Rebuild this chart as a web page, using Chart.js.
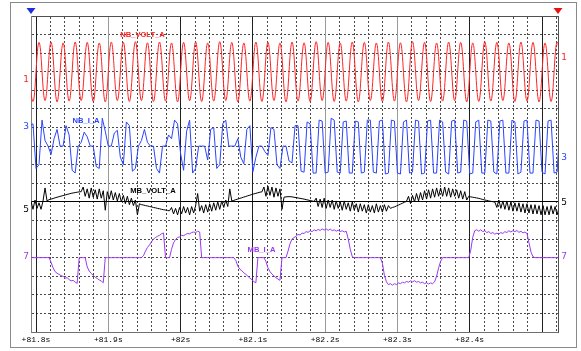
<!DOCTYPE html>
<html><head><meta charset="utf-8">
<script src="https://cdn.jsdelivr.net/npm/chart.js@4.4.1/dist/chart.umd.min.js"></script>
<style>
html,body{margin:0;padding:0;background:#fff;}
#wrap{position:relative;width:581px;height:351px;overflow:hidden;}
#frame{position:absolute;left:10px;top:2px;width:565px;height:344px;border:1px solid #8a8a8a;}
canvas{position:absolute;left:0;top:0;}
</style></head><body>
<div id="wrap"><div id="frame"></div><canvas id="c" width="581" height="351"></canvas></div>
<script>
// ---- time axis (seconds) ----
const T_START = 81.7875;           // first sample instant of every trace
const TICK_VALUES = [81.8, 81.9, 82.0, 82.1, 82.2, 82.3, 82.4, 82.5];
const TICK_LABELS = ['+81.8s', '+81.9s', '+82s', '+82.1s', '+82.2s', '+82.3s', '+82.4s', ''];

// ---- channel names / numbers ----
const NAMES = ['NB_VOLT_A', 'NB_I_A', 'MB_VOLT_A', 'MB_I_A'];
const CH_NUMS = ['1', '3', '5', '7'];

// NB_VOLT_A : alternating crest / trough values every half cycle (1/120 s), in divisions
const RED_V = [
 1.55,-1.60, 1.58,-1.55, 1.60,-1.62, 1.55,-1.58, 1.60,-1.55,
 1.58,-1.60, 1.55,-1.62, 1.60,-1.55, 1.58,-1.60, 1.62,-1.55,
 1.56,-1.60, 1.60,-1.58, 1.55,-1.62, 1.58,-1.56, 1.60,-1.60,
 1.55,-1.58, 1.62,-1.55, 1.58,-1.62, 1.55,-1.58, 1.60,-1.60,
 1.58,-1.55, 1.55,-1.62, 1.60,-1.58, 1.56,-1.60, 1.62,-1.55,
 1.58,-1.60, 1.55,-1.58, 1.60,-1.62, 1.58,-1.55, 1.55,-1.60,
 1.60,-1.58, 1.56,-1.62, 1.62,-1.55, 1.58,-1.60, 1.55,-1.58,
 1.60,-1.55, 1.58,-1.62, 1.55,-1.60, 1.62,-1.58, 1.58,-1.55,
 1.55,-1.60, 1.60,-1.58, 1.58,-1.62, 1.55,-1.60, 1.60,-1.58
];

// NB_I_A : samples every quarter cycle (1/240 s), in divisions
const BLUE_V = [
 0.4,
 1.1,1.2,-1.2,-1.0,   1.4,0.3,0,-0.45,     0.4,0.9,0,0,        1.1,0.6,-1.3,-1.45,
 0,0.2,0.75,0.5,      0,0,-1.1,-1.2,       1.5,0.8,0,0,        0.7,0.85,-0.6,-1.0,
 1.3,1.1,-1.35,-1.2,  0,0.3,0.9,0.2,       0,0,-1.2,-1.45,     0,0,0.6,0.4,
 1.4,1.2,-0.4,-1.3,   0.8,1.4,-1.45,-1.2,  0,0,0,-0.75,        0.9,1.0,-1.2,-1.0,
 1.2,1.4,0,0,         0,0.4,-0.6,-0.95,    0.9,1.1,-1.38,-0.6, 0,0,-0.3,-0.5,
 1.0,0.9,-1.0,-1.2,   0,0,-0.8,-0.9,       1.1,1.1,-1.35,-1.4, 1.3,1.2,-1.45,-1.45,
 1.4,1.35,-1.45,-1.4, 1.5,1.4,-1.4,-1.45,  1.3,1.35,-1.45,-1.45, 1.35,1.3,-1.45,-1.4,
 1.4,1.4,-1.4,-1.45,  1.35,1.4,-1.5,-1.45, 1.4,1.35,-1.45,-1.5, 1.3,1.4,-1.45,-1.4,
 1.4,1.35,-1.5,-1.45, 1.35,1.4,-1.45,-1.45, 1.4,1.3,-1.4,-1.5, 1.35,1.4,-1.45,-1.4,
 1.4,1.35,-1.5,-1.45, 1.3,1.4,-1.45,-1.45, 1.4,1.35,-1.4,-1.5, 1.35,1.4,-1.45,-1.45,
 1.4,1.3,-1.5,-1.4,   1.35,1.4,-1.45,-1.45, 1.4,1.35,-1.4,-1.5, 1.35,1.4,-1.45,-1.4,
 1.35
];

// MB_VOLT_A : samples every 1/360 s, in divisions
const BLACK_V = [
 -0.1,-0.45,0.05,-0.4,0.1,-0.35,-0.05,-0.4,0.05,0.75,
 0.05,0.12,0.15,0.18,0.22,0.25,0.28,0.31,0.34,0.37,
 0.4,0.43,0.46,0.48,0.5,0.52,0.54,0.55,0.8,0.3,
 0.7,0.2,0.75,0.25,0.65,0.15,0.7,0.2,0.6,-0.45,
 0.55,0.15,0.6,0.1,0.5,0.05,0.45,0.0,0.35,-0.1,
 0.3,-0.15,0.2,-0.2,0.1,-0.7,-0.1,-0.15,-0.17,-0.2,
 -0.22,-0.25,-0.27,-0.3,-0.32,-0.35,-0.37,-0.4,-0.42,-0.44,
 -0.46,-0.48,-0.3,-0.65,-0.35,-0.7,-0.3,-0.65,-0.25,-0.6,
 -0.3,-0.7,-0.25,-0.6,-0.2,0.45,-0.5,-0.2,-0.6,-0.15,
 -0.55,-0.1,-0.5,-0.05,-0.45,0.0,-0.4,0.05,-0.3,0.1,
 -0.25,0.7,0.05,0.08,0.12,0.15,0.19,0.22,0.26,0.29,
 0.33,0.36,0.4,0.43,0.46,0.49,0.52,0.54,0.8,0.3,
 0.85,0.35,0.8,0.25,0.75,0.3,0.7,-0.4,0.25,0.27,
 0.28,0.28,0.27,0.25,0.23,0.21,0.19,0.17,0.15,0.12,
 0.1,0.07,0.05,0.02,0.2,-0.25,0.15,-0.3,0.2,-0.35,
 0.1,-0.3,0.1,-0.4,0.05,-0.35,0.0,-0.45,0.05,-0.4,
 -0.05,-0.5,0.0,-0.45,-0.1,-0.55,-0.1,-0.5,-0.15,-0.6,
 -0.15,-0.55,-0.2,-0.6,-0.1,-0.55,-0.2,-0.55,-0.15,-0.5,
 -0.2,-0.35,-0.3,-0.27,-0.22,-0.17,-0.12,-0.07,-0.02,0.03,
 0.3,-0.1,0.35,0.0,0.45,0.05,0.5,0.1,0.6,0.15,
 0.65,0.2,0.7,0.25,0.75,0.3,0.75,0.3,0.8,0.3,
 0.75,0.25,0.7,0.3,0.65,0.2,0.6,0.15,0.55,0.1,
 0.3,0.27,0.25,0.23,0.21,0.19,0.16,0.13,0.1,0.08,
 0.05,0.03,0.01,-0.01,-0.3,0.1,-0.35,0.05,-0.4,0.05,
 -0.45,0.0,-0.5,-0.05,-0.5,-0.05,-0.55,-0.1,-0.6,-0.1,
 -0.6,-0.15,-0.65,-0.15,-0.65,-0.2,-0.7,-0.2,-0.7,-0.25,
 -0.7,-0.2,-0.65,-0.25,-0.7,-0.3,-0.65
];

// MB_I_A : samples every 1/360 s, in divisions
const PURPLE_V = [
 0,0,0,0,0,0,0,0,0,0,
 0,0,-0.25,-0.55,-0.75,-0.84,-0.9,-0.97,-1.0,-1.1,
 -1.08,-1.18,-1.25,-1.22,-1.32,-1.38,0,0,0,0,
 -0.5,-0.72,-0.85,-0.95,-1.05,-1.12,-1.2,-1.26,-1.35,0,
 0,0,0,0,0,0,0,0,0,0,
 0,0,0,0,0,0,0,0,0.1,0.35,
 0.55,0.68,0.85,1.0,1.08,1.15,1.2,1.28,1.33,0,
 0,0,0.45,0.8,0.98,1.08,1.12,1.2,1.18,1.25,
 1.3,1.28,1.35,1.38,1.35,1.42,1.38,0,0,0,
 0,0,0,0,0,0,0,0,0,0,
 0,0,0,0,-0.15,-0.45,-0.62,-0.7,-0.82,-0.9,
 -1.0,-1.1,-1.18,-1.3,-1.35,0,0,0,0,-0.2,
 -0.55,-0.75,-0.88,-0.98,-1.08,-1.15,-1.22,0,0,0,
 0.35,0.75,1.0,1.08,1.15,1.25,1.22,1.32,1.3,1.4,
 1.36,1.45,1.4,1.5,1.44,1.52,1.46,1.55,1.48,1.55,
 1.47,1.54,1.45,1.5,1.42,1.48,1.4,1.45,1.38,1.42,
 1.0,0.45,0.05,0,0,0,0,0,0,0,
 0,0,0,0,0,0,0,-0.3,-0.95,-1.3,
 -1.45,-1.4,-1.48,-1.4,-1.45,-1.36,-1.4,-1.32,-1.36,-1.28,
 -1.32,-1.25,-1.3,-1.24,-1.32,-1.28,-1.36,-1.32,-1.4,-1.35,
 -1.42,-1.36,-1.4,-1.3,-1.0,-0.55,-0.2,0,0,0,
 0,0,0,0,0,0,0,0,0,0,
 0,0.4,1.1,1.45,1.5,1.42,1.5,1.4,1.45,1.35,
 1.4,1.3,1.35,1.26,1.32,1.27,1.35,1.3,1.4,1.35,
 1.45,1.38,1.45,1.4,1.46,1.36,1.42,1.33,1.38,1.3,
 0.8,0.3,0.05,0,0,0,0,0,0,0,
 0,0,0,0,0,0,0
];

// ---- display settings (not data) ----
const T_MIN = 81.79308, T_MAX = 82.52209;
const DIVS = 17;
const CH_OFFSET = [14, 10, 7, 4];              // channel zero position, in divisions
const COLORS = ['#ff2323', '#2a44ff', '#000000', '#9a38f2'];
const MAJOR_COLORS = ['#202020', '#9a9a9a', '#202020', '#202020', '#9a9a9a', '#9a9a9a', '#202020', '#202020'];
const LEFT_NUM_DIV = [13.56, 11.03, 6.56, 4.03];
const RIGHT_NUM_DIV = [14.74, 9.36, 6.94, 4.03];
const NAME_T = [81.9473, 81.8692, 81.9618, 82.1119];
const NAME_DIV = [16.0, 11.35, 7.58, 4.44];

const series = (vals, step) => vals.map((v, i) => ({x: T_START + i * step, y: v}));
const chScale = i => ({display: false, min: -CH_OFFSET[i], max: DIVS - CH_OFFSET[i]});

const overlay = {
  id: 'overlay',
  afterDraw(chart) {
    const {ctx, chartArea: a, scales} = chart;
    const sx = scales.x, sy = scales.y;
    ctx.save();
    // cursor markers
    [[a.left, '#1a2fe0'], [a.right, '#e81010']].forEach(([px, col]) => {
      ctx.fillStyle = col;
      ctx.beginPath();
      ctx.moveTo(px - 4.5, a.top - 8);
      ctx.lineTo(px + 4.5, a.top - 8);
      ctx.lineTo(px, a.top - 2);
      ctx.closePath();
      ctx.fill();
    });
    // channel numbers
    ctx.font = "9px 'DejaVu Sans'";
    ctx.textAlign = 'center';
    ctx.textBaseline = 'middle';
    CH_NUMS.forEach((n, i) => {
      ctx.fillStyle = COLORS[i];
      ctx.fillText(n, a.left - 5, sy.getPixelForValue(LEFT_NUM_DIV[i]));
      ctx.fillText(n, a.right + 6, sy.getPixelForValue(RIGHT_NUM_DIV[i]));
    });
    // trace names
    ctx.font = "bold 7.6px 'Liberation Sans'";
    NAMES.forEach((n, i) => {
      ctx.fillStyle = COLORS[i];
      ctx.fillText(n, sx.getPixelForValue(NAME_T[i]), sy.getPixelForValue(NAME_DIV[i]));
    });
    ctx.restore();
  }
};

new Chart(document.getElementById('c'), {
  type: 'line',
  data: {
    datasets: [
      {label: NAMES[0], data: series(RED_V, 1/120), yAxisID: 'y1', borderColor: COLORS[0], borderWidth: 1, pointRadius: 0, tension: 0.4},
      {label: NAMES[1], data: series(BLUE_V, 1/240), yAxisID: 'y3', borderColor: COLORS[1], borderWidth: 1, pointRadius: 0, tension: 0},
      {label: NAMES[2], data: series(BLACK_V, 1/360), yAxisID: 'y5', borderColor: COLORS[2], borderWidth: 1, pointRadius: 0, tension: 0},
      {label: NAMES[3], data: series(PURPLE_V, 1/360), yAxisID: 'y7', borderColor: COLORS[3], borderWidth: 1, pointRadius: 0, tension: 0}
    ]
  },
  options: {
    responsive: false,
    animation: false,
    events: [],
    layout: {padding: {left: 31, right: 23, top: 16, bottom: 3}},
    plugins: {legend: {display: false}, tooltip: {enabled: false}},
    scales: {
      x: {
        type: 'linear', position: 'bottom', min: T_MIN, max: T_MAX,
        afterBuildTicks: s => { s.ticks = TICK_VALUES.map(v => ({value: v})); },
        afterFit: s => { s.height = 16; },
        ticks: {autoSkip: false, maxRotation: 0, padding: 3, color: '#000',
                font: {family: "'Liberation Mono'", size: 8},
                callback: (v, i) => TICK_LABELS[i]},
        grid: {drawTicks: false, lineWidth: 1, color: c => MAJOR_COLORS[c.index], z: -1},
        border: {display: true, color: '#707070'}
      },
      xMinor: {
        type: 'linear', position: 'top', min: T_MIN, max: T_MAX,
        afterBuildTicks: s => { const t = []; for (let i = 1; i <= 36; i++) t.push({value: TICK_VALUES[0] + i * 0.02}); s.ticks = t; },
        afterFit: s => { s.height = 0; },
        ticks: {display: false},
        grid: {drawTicks: false, color: '#4a4a4a', z: -2},
        border: {display: true, color: '#505050', dash: [2, 2]}
      },
      y: {
        type: 'linear', position: 'left', min: 0, max: DIVS,
        afterFit: s => { s.width = 0; },
        ticks: {display: false, stepSize: 1},
        grid: {drawTicks: false, color: '#4a4a4a', z: -2},
        border: {display: true, color: '#808080', dash: [2, 2]}
      },
      yRef: {
        type: 'linear', position: 'right', min: 0, max: DIVS,
        afterFit: s => { s.width = 0; },
        afterBuildTicks: s => { s.ticks = [{value: CH_OFFSET[2]}]; },
        ticks: {display: false},
        grid: {drawTicks: false, color: '#000', z: -1},
        border: {display: true, color: '#505050'}
      },
      y1: chScale(0), y3: chScale(1), y5: chScale(2), y7: chScale(3)
    }
  },
  plugins: [overlay]
});
</script></body></html>
